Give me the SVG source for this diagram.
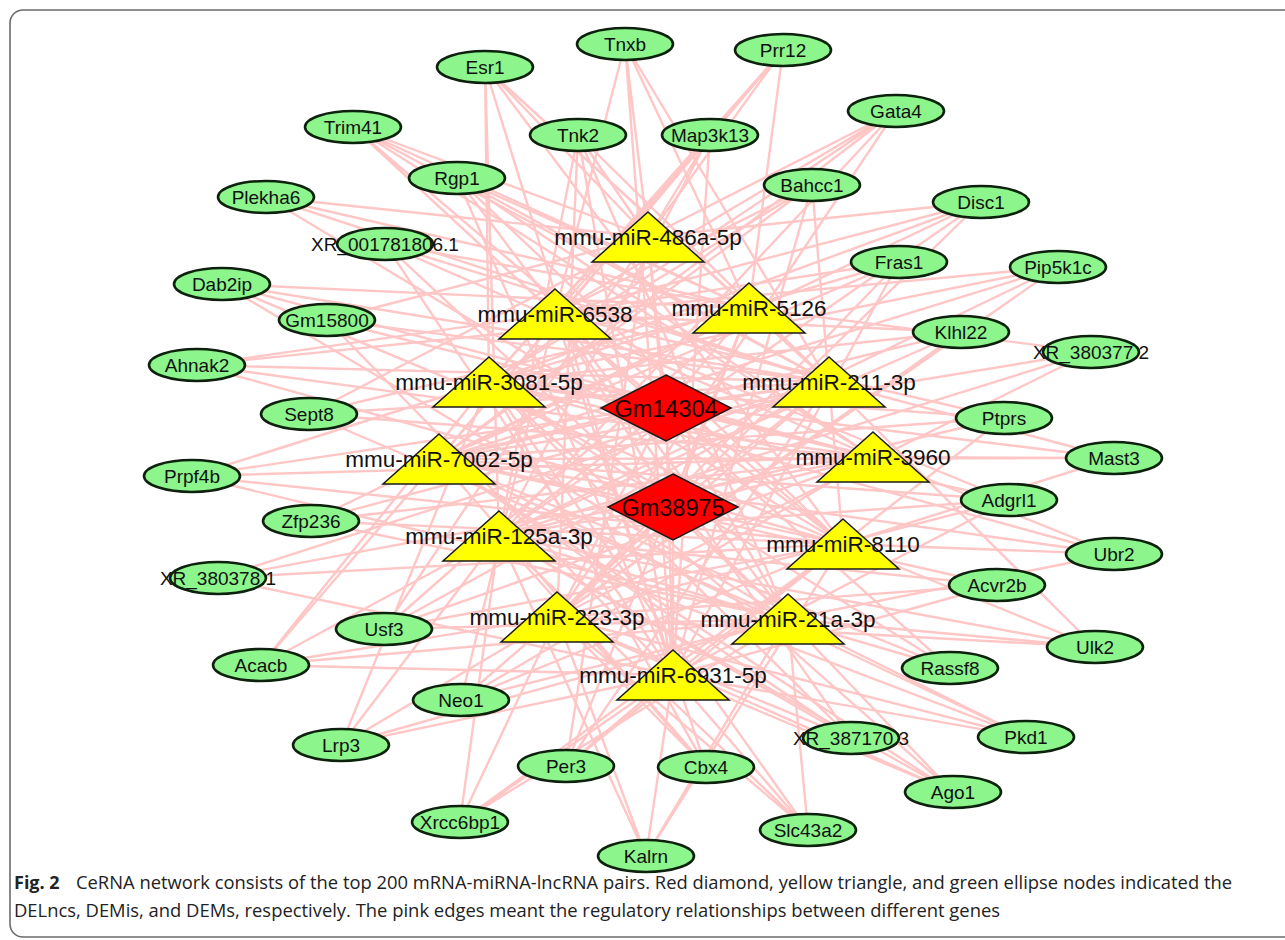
<svg xmlns="http://www.w3.org/2000/svg" width="1285" height="940" viewBox="0 0 1285 940">
<style>
.frame{fill:none;stroke:#6b6b6b;stroke-width:1.6}
#edges path{fill:none;stroke:#ffc6c6;stroke-width:2.4}
.g ellipse{fill:#8cf58c;stroke:#0d220d;stroke-width:2.6}
.t polygon{fill:#ffff00;stroke:#1a1a1a;stroke-width:1.5}
.d polygon{fill:#ff0000;stroke:#1a1a1a;stroke-width:1.5}
text{font-family:"Liberation Sans",Arial,sans-serif;fill:#111;text-anchor:middle}
.g text{font-size:19px}
.t text{font-size:22.5px}
.d text{font-size:23.5px;fill:#1a0000}
.cap{font-family:"Open Sans","Liberation Sans",sans-serif;font-size:18px;text-anchor:start;fill:#222}
.capb{font-weight:bold}
</style>
<rect class="frame" x="10" y="10" width="1300" height="927" rx="13"/>
<g id="edges">
<path d="M666 408L648 237M666 408L555 314M666 408L749 308M666 408L489 382M666 408L829 382M666 408L439 459M666 408L873 457M666 408L499 536M666 408L843 544M666 408L557 617M666 408L788 619M666 408L673 675"/>
<path d="M673 507L648 237M673 507L555 314M673 507L749 308M673 507L489 382M673 507L829 382M673 507L439 459M673 507L873 457M673 507L499 536M673 507L843 544M673 507L557 617M673 507L788 619M673 507L673 675"/>
<path d="M625 44L648 237M625 44L555 314M625 44L749 308M625 44L829 382M625 44L673 675"/>
<path d="M485 67L648 237M485 67L489 382M485 67L499 536M485 67L749 308M485 67L673 675M485 67L829 382M485 67L843 544"/>
<path d="M783 50L648 237M783 50L555 314M783 50L489 382M783 50L439 459M783 50L749 308"/>
<path d="M353 127L648 237M353 127L749 308M353 127L829 382M353 127L843 544M353 127L555 314M353 127L873 457"/>
<path d="M578 135L648 237M578 135L557 617M578 135L499 536M578 135L788 619M578 135L829 382M578 135L673 675"/>
<path d="M710 135L648 237M710 135L439 459M710 135L499 536M710 135L489 382M710 135L673 675"/>
<path d="M896 111L648 237M896 111L555 314M896 111L489 382M896 111L557 617M896 111L439 459M896 111L499 536"/>
<path d="M457 178L749 308M457 178L829 382M457 178L873 457M457 178L673 675M457 178L843 544M457 178L788 619"/>
<path d="M812 185L555 314M812 185L489 382M812 185L439 459M812 185L673 675M812 185L843 544"/>
<path d="M266 197L648 237M266 197L749 308M266 197L829 382M266 197L843 544"/>
<path d="M981 202L648 237M981 202L555 314M981 202L439 459M981 202L499 536M981 202L489 382M981 202L557 617"/>
<path d="M385 244L749 308M385 244L829 382M385 244L873 457M385 244L788 619M385 244L673 675"/>
<path d="M899 262L555 314M899 262L489 382M899 262L439 459M899 262L557 617M899 262L673 675"/>
<path d="M1058 267L555 314M1058 267L489 382M1058 267L439 459M1058 267L499 536M1058 267L557 617"/>
<path d="M222 284L749 308M222 284L829 382M222 284L843 544M222 284L788 619M222 284L873 457"/>
<path d="M327 320L648 237M327 320L829 382M327 320L873 457M327 320L673 675"/>
<path d="M961 332L555 314M961 332L489 382M961 332L439 459M961 332L557 617M961 332L499 536"/>
<path d="M1091 352L749 308M1091 352L439 459M1091 352L499 536M1091 352L557 617"/>
<path d="M197 365L555 314M197 365L749 308M197 365L829 382M197 365L873 457M197 365L843 544"/>
<path d="M309 414L648 237M309 414L829 382M309 414L873 457M309 414L788 619M309 414L749 308"/>
<path d="M1004 418L489 382M1004 418L439 459M1004 418L499 536M1004 418L673 675M1004 418L555 314"/>
<path d="M1114 458L829 382M1114 458L873 457M1114 458L843 544M1114 458L489 382M1114 458L439 459"/>
<path d="M192 476L489 382M192 476L873 457M192 476L843 544M192 476L788 619M192 476L829 382"/>
<path d="M311 521L749 308M311 521L829 382M311 521L873 457M311 521L843 544M311 521L788 619"/>
<path d="M1009 500L555 314M1009 500L489 382M1009 500L439 459M1009 500L499 536M1009 500L557 617M1009 500L673 675"/>
<path d="M218 578L829 382M218 578L873 457M218 578L843 544M218 578L673 675"/>
<path d="M1114 554L873 457M1114 554L843 544M1114 554L788 619M1114 554L439 459M1114 554L489 382"/>
<path d="M997 585L439 459M997 585L499 536M997 585L557 617M997 585L673 675"/>
<path d="M384 629L648 237M384 629L749 308M384 629L873 457M384 629L843 544M384 629L788 619M384 629L829 382"/>
<path d="M261 665L489 382M261 665L439 459M261 665L557 617M261 665L788 619M261 665L499 536M261 665L673 675"/>
<path d="M1095 647L843 544M1095 647L788 619M1095 647L829 382M1095 647L557 617M1095 647L499 536"/>
<path d="M950 668L555 314M950 668L489 382M950 668L499 536M950 668L439 459"/>
<path d="M461 700L555 314M461 700L873 457M461 700L843 544M461 700L788 619M461 700L829 382"/>
<path d="M851 738L439 459M851 738L499 536M851 738L557 617M851 738L489 382M851 738L555 314"/>
<path d="M1026 737L499 536M1026 737L557 617M1026 737L788 619M1026 737L673 675M1026 737L439 459"/>
<path d="M341 745L489 382M341 745L499 536M341 745L557 617M341 745L673 675M341 745L788 619"/>
<path d="M566 766L648 237M566 766L749 308M566 766L829 382M566 766L843 544M566 766L673 675"/>
<path d="M706 767L555 314M706 767L489 382M706 767L499 536M706 767L557 617M706 767L439 459"/>
<path d="M953 792L439 459M953 792L499 536M953 792L557 617M953 792L673 675M953 792L788 619M953 792L489 382"/>
<path d="M460 822L673 675M460 822L557 617M460 822L499 536M460 822L843 544M460 822L788 619"/>
<path d="M808 830L673 675M808 830L788 619M808 830L557 617M808 830L499 536M808 830L489 382"/>
<path d="M646 856L673 675M646 856L557 617M646 856L499 536M646 856L788 619M646 856L843 544"/>
</g>
<g id="n-Gm14304" class="d"><polygon points="666,375 731,408 666,441 601,408"/><text x="666" y="417">Gm14304</text></g>
<g id="n-Gm38975" class="d"><polygon points="673,474 738,507 673,540 608,507"/><text x="673" y="516">Gm38975</text></g>
<g id="n-miR-486a-5p" class="t"><polygon points="648,212 704,262 592,262"/><text x="648" y="245">mmu-miR-486a-5p</text></g>
<g id="n-miR-6538" class="t"><polygon points="555,289 611,339 499,339"/><text x="555" y="322">mmu-miR-6538</text></g>
<g id="n-miR-5126" class="t"><polygon points="749,283 805,333 693,333"/><text x="749" y="316">mmu-miR-5126</text></g>
<g id="n-miR-3081-5p" class="t"><polygon points="489,357 545,407 433,407"/><text x="489" y="390">mmu-miR-3081-5p</text></g>
<g id="n-miR-211-3p" class="t"><polygon points="829,357 885,407 773,407"/><text x="829" y="390">mmu-miR-211-3p</text></g>
<g id="n-miR-7002-5p" class="t"><polygon points="439,434 495,484 383,484"/><text x="439" y="467">mmu-miR-7002-5p</text></g>
<g id="n-miR-3960" class="t"><polygon points="873,432 929,482 817,482"/><text x="873" y="465">mmu-miR-3960</text></g>
<g id="n-miR-125a-3p" class="t"><polygon points="499,511 555,561 443,561"/><text x="499" y="544">mmu-miR-125a-3p</text></g>
<g id="n-miR-8110" class="t"><polygon points="843,519 899,569 787,569"/><text x="843" y="552">mmu-miR-8110</text></g>
<g id="n-miR-223-3p" class="t"><polygon points="557,592 613,642 501,642"/><text x="557" y="625">mmu-miR-223-3p</text></g>
<g id="n-miR-21a-3p" class="t"><polygon points="788,594 844,644 732,644"/><text x="788" y="627">mmu-miR-21a-3p</text></g>
<g id="n-miR-6931-5p" class="t"><polygon points="673,650 729,700 617,700"/><text x="673" y="683">mmu-miR-6931-5p</text></g>
<g id="n-Tnxb" class="g"><ellipse cx="625" cy="44" rx="48" ry="16"/><text x="625" y="51">Tnxb</text></g>
<g id="n-Esr1" class="g"><ellipse cx="485" cy="67" rx="48" ry="16"/><text x="485" y="74">Esr1</text></g>
<g id="n-Prr12" class="g"><ellipse cx="783" cy="50" rx="48" ry="16"/><text x="783" y="57">Prr12</text></g>
<g id="n-Trim41" class="g"><ellipse cx="353" cy="127" rx="48" ry="16"/><text x="353" y="134">Trim41</text></g>
<g id="n-Tnk2" class="g"><ellipse cx="578" cy="135" rx="48" ry="16"/><text x="578" y="142">Tnk2</text></g>
<g id="n-Map3k13" class="g"><ellipse cx="710" cy="135" rx="48" ry="16"/><text x="710" y="142">Map3k13</text></g>
<g id="n-Gata4" class="g"><ellipse cx="896" cy="111" rx="48" ry="16"/><text x="896" y="118">Gata4</text></g>
<g id="n-Rgp1" class="g"><ellipse cx="457" cy="178" rx="48" ry="16"/><text x="457" y="185">Rgp1</text></g>
<g id="n-Bahcc1" class="g"><ellipse cx="812" cy="185" rx="48" ry="16"/><text x="812" y="192">Bahcc1</text></g>
<g id="n-Plekha6" class="g"><ellipse cx="266" cy="197" rx="48" ry="16"/><text x="266" y="204">Plekha6</text></g>
<g id="n-Disc1" class="g"><ellipse cx="981" cy="202" rx="48" ry="16"/><text x="981" y="209">Disc1</text></g>
<g id="n-XR_001781806.1" class="g"><ellipse cx="385" cy="244" rx="48" ry="16"/><text x="385" y="251">XR_001781806.1</text></g>
<g id="n-Fras1" class="g"><ellipse cx="899" cy="262" rx="48" ry="16"/><text x="899" y="269">Fras1</text></g>
<g id="n-Pip5k1c" class="g"><ellipse cx="1058" cy="267" rx="48" ry="16"/><text x="1058" y="274">Pip5k1c</text></g>
<g id="n-Dab2ip" class="g"><ellipse cx="222" cy="284" rx="48" ry="16"/><text x="222" y="291">Dab2ip</text></g>
<g id="n-Gm15800" class="g"><ellipse cx="327" cy="320" rx="48" ry="16"/><text x="327" y="327">Gm15800</text></g>
<g id="n-Klhl22" class="g"><ellipse cx="961" cy="332" rx="48" ry="16"/><text x="961" y="339">Klhl22</text></g>
<g id="n-XR_380377.2" class="g"><ellipse cx="1091" cy="352" rx="48" ry="16"/><text x="1091" y="359">XR_380377.2</text></g>
<g id="n-Ahnak2" class="g"><ellipse cx="197" cy="365" rx="48" ry="16"/><text x="197" y="372">Ahnak2</text></g>
<g id="n-Sept8" class="g"><ellipse cx="309" cy="414" rx="48" ry="16"/><text x="309" y="421">Sept8</text></g>
<g id="n-Ptprs" class="g"><ellipse cx="1004" cy="418" rx="48" ry="16"/><text x="1004" y="425">Ptprs</text></g>
<g id="n-Mast3" class="g"><ellipse cx="1114" cy="458" rx="48" ry="16"/><text x="1114" y="465">Mast3</text></g>
<g id="n-Prpf4b" class="g"><ellipse cx="192" cy="476" rx="48" ry="16"/><text x="192" y="483">Prpf4b</text></g>
<g id="n-Adgrl1" class="g"><ellipse cx="1009" cy="500" rx="48" ry="16"/><text x="1009" y="507">Adgrl1</text></g>
<g id="n-Zfp236" class="g"><ellipse cx="311" cy="521" rx="48" ry="16"/><text x="311" y="528">Zfp236</text></g>
<g id="n-Ubr2" class="g"><ellipse cx="1114" cy="554" rx="48" ry="16"/><text x="1114" y="561">Ubr2</text></g>
<g id="n-XR_380378.1" class="g"><ellipse cx="218" cy="578" rx="48" ry="16"/><text x="218" y="585">XR_380378.1</text></g>
<g id="n-Acvr2b" class="g"><ellipse cx="997" cy="585" rx="48" ry="16"/><text x="997" y="592">Acvr2b</text></g>
<g id="n-Usf3" class="g"><ellipse cx="384" cy="629" rx="48" ry="16"/><text x="384" y="636">Usf3</text></g>
<g id="n-Ulk2" class="g"><ellipse cx="1095" cy="647" rx="48" ry="16"/><text x="1095" y="654">Ulk2</text></g>
<g id="n-Acacb" class="g"><ellipse cx="261" cy="665" rx="48" ry="16"/><text x="261" y="672">Acacb</text></g>
<g id="n-Rassf8" class="g"><ellipse cx="950" cy="668" rx="48" ry="16"/><text x="950" y="675">Rassf8</text></g>
<g id="n-Neo1" class="g"><ellipse cx="461" cy="700" rx="48" ry="16"/><text x="461" y="707">Neo1</text></g>
<g id="n-Pkd1" class="g"><ellipse cx="1026" cy="737" rx="48" ry="16"/><text x="1026" y="744">Pkd1</text></g>
<g id="n-XR_387170.3" class="g"><ellipse cx="851" cy="738" rx="48" ry="16"/><text x="851" y="745">XR_387170.3</text></g>
<g id="n-Lrp3" class="g"><ellipse cx="341" cy="745" rx="48" ry="16"/><text x="341" y="752">Lrp3</text></g>
<g id="n-Per3" class="g"><ellipse cx="566" cy="766" rx="48" ry="16"/><text x="566" y="773">Per3</text></g>
<g id="n-Cbx4" class="g"><ellipse cx="706" cy="767" rx="48" ry="16"/><text x="706" y="774">Cbx4</text></g>
<g id="n-Ago1" class="g"><ellipse cx="953" cy="792" rx="48" ry="16"/><text x="953" y="799">Ago1</text></g>
<g id="n-Xrcc6bp1" class="g"><ellipse cx="460" cy="822" rx="48" ry="16"/><text x="460" y="829">Xrcc6bp1</text></g>
<g id="n-Slc43a2" class="g"><ellipse cx="808" cy="830" rx="48" ry="16"/><text x="808" y="837">Slc43a2</text></g>
<g id="n-Kalrn" class="g"><ellipse cx="646" cy="856" rx="48" ry="16"/><text x="646" y="863">Kalrn</text></g>
<g id="caption">
<text class="cap capb" x="14" y="889">Fig. 2</text>
<text class="cap" x="76" y="889" textLength="1156" lengthAdjust="spacingAndGlyphs">CeRNA network consists of the top 200 mRNA-miRNA-lncRNA pairs. Red diamond, yellow triangle, and green ellipse nodes indicated the</text>
<text class="cap" x="14" y="917" textLength="986" lengthAdjust="spacingAndGlyphs">DELncs, DEMis, and DEMs, respectively. The pink edges meant the regulatory relationships between different genes</text>
</g>
</svg>
